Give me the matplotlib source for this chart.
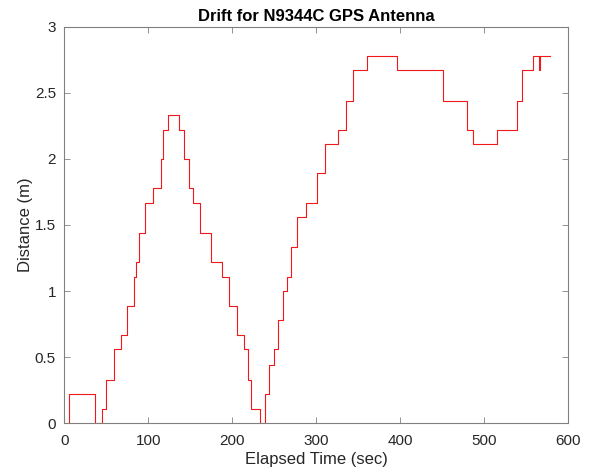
import matplotlib
matplotlib.use("Agg")
import matplotlib.pyplot as plt

plt.rcParams['font.family'] = ['Liberation Sans', 'DejaVu Sans']

# Step change times (sec) and distance levels (m)
times = [0, 6, 37, 45, 50, 59, 67.5, 75, 83, 86, 88.5, 95.6, 106, 114.7, 117.5, 124,
         137, 143, 149, 153, 162, 174.6, 187.7, 196.4, 205.5, 214, 218.6, 221.8, 233,
         239, 244, 250, 255, 260, 265, 270, 277, 287.7, 300.8, 310.7, 325.8, 335.3,
         343.6, 360, 396, 451.6, 479.4, 486.5, 515.9, 538.9, 545.6, 558, 565, 567, 578]
distance = [0, 0.22, 0, 0.11, 0.33, 0.56, 0.67, 0.89, 1.11, 1.22, 1.44, 1.67, 1.78, 2.0, 2.22, 2.33,
            2.22, 2.0, 1.78, 1.67, 1.44, 1.22, 1.11, 0.89, 0.67, 0.56, 0.33, 0.11, 0,
            0.22, 0.44, 0.56, 0.78, 1.0, 1.11, 1.33, 1.56, 1.67, 1.89, 2.11, 2.22, 2.44,
            2.67, 2.78, 2.67, 2.44, 2.22, 2.11, 2.22, 2.44, 2.67, 2.78, 2.67, 2.78, 2.78]

xticks = [0, 100, 200, 300, 400, 500, 600]
yticks = [0, 0.5, 1, 1.5, 2, 2.5, 3]
yticklabels = ['0', '0.5', '1', '1.5', '2', '2.5', '3']

fig = plt.figure(figsize=(5.89, 4.75), dpi=100)
ax = fig.add_axes([64.3/589, 51.7/475, 503.7/589, 396.6/475])
ax.plot(times, distance, drawstyle='steps-post', color='#f01818', linewidth=0.8)
ax.set_xlim(0, 600)
ax.set_ylim(0, 3)
ax.set_xticks(xticks)
ax.set_yticks(yticks)
ax.set_yticklabels(yticklabels)
gray = '#262626'
for s in ax.spines.values():
    s.set_color('#808080')
    s.set_linewidth(0.8)
ax.tick_params(direction='in', top=True, right=True, length=4, width=0.6,
               color='#808080', labelcolor=gray, labelsize=11)
ax.tick_params(axis='x', pad=7.5)
ax.tick_params(axis='y', pad=6)
ax.set_xlabel('Elapsed Time (sec)', fontsize=12, color=gray, labelpad=3)
ax.set_ylabel('Distance (m)', fontsize=12, color=gray, labelpad=1)
ax.set_title('Drift for N9344C GPS Antenna', fontsize=12, fontweight='bold', color='black', pad=4)

fig.savefig('out.png', dpi=100)
